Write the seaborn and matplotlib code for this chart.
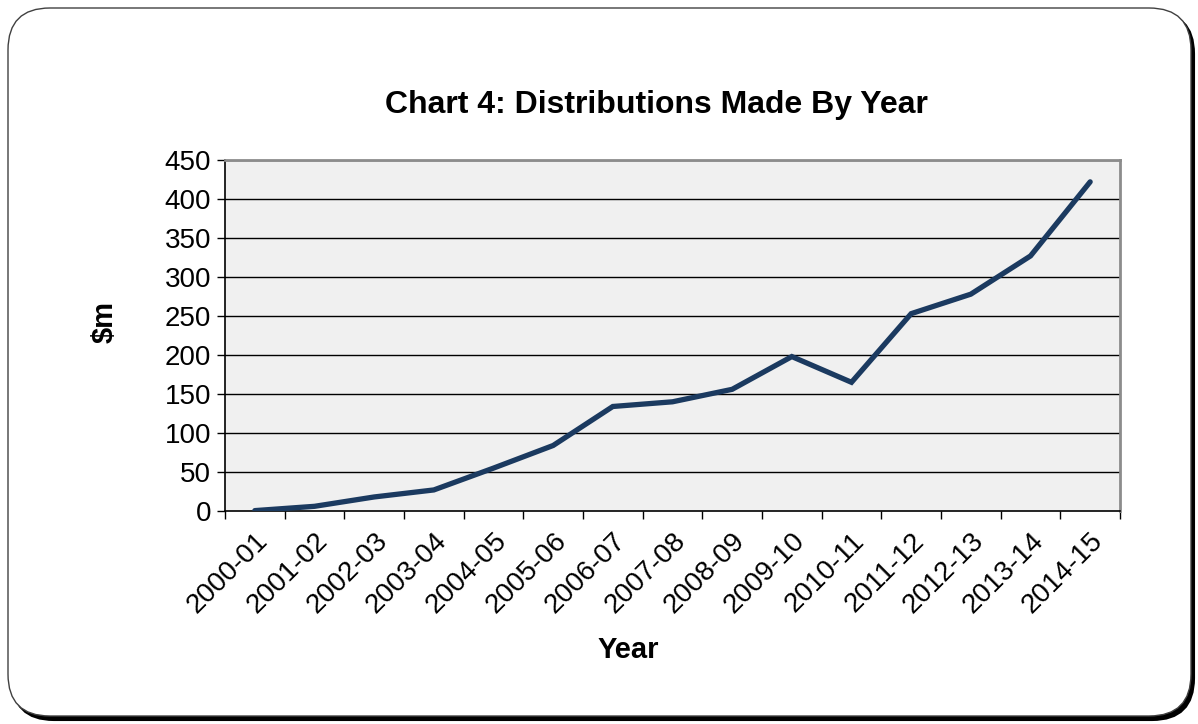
import matplotlib
matplotlib.use("Agg")
import matplotlib.pyplot as plt
from matplotlib.patches import FancyBboxPatch
import seaborn as sns
import pandas as pd
import numpy as np

# Datos
years = ["2000-01", "2001-02", "2002-03", "2003-04", "2004-05", "2005-06",
         "2006-07", "2007-08", "2008-09", "2009-10", "2010-11", "2011-12",
         "2012-13", "2013-14", "2014-15"]
distributions = [0.5, 6, 18, 27, 55, 84, 134, 140, 156, 198, 165, 253, 278, 327, 422]
y_ticks = [0, 50, 100, 150, 200, 250, 300, 350, 400, 450]

df = pd.DataFrame({"year": years, "value": distributions})
df["pos"] = np.arange(len(years))

sns.set_style("white")
plt.rcParams["font.family"] = ["Liberation Sans", "DejaVu Sans"]
plt.rcParams["text.color"] = "black"
plt.rcParams["xtick.color"] = "black"
plt.rcParams["ytick.color"] = "black"

fig = plt.figure(figsize=(11.98, 7.24), dpi=100)
W, H = 1198, 724

# Marco redondeado con sombra
shadow = FancyBboxPatch((12 / W, 4 / H), 1182 / W, 708 / H,
                        boxstyle="round,pad=0,rounding_size=0.035",
                        transform=fig.transFigure, facecolor="black",
                        edgecolor="black", linewidth=1.5, mutation_aspect=W / H, zorder=0)
frame = FancyBboxPatch((8 / W, 8 / H), 1183 / W, 708 / H,
                       boxstyle="round,pad=0,rounding_size=0.035",
                       transform=fig.transFigure, facecolor="white",
                       edgecolor="#404040", linewidth=1.0, mutation_aspect=W / H, zorder=1)
fig.patches.extend([shadow, frame])

ax = fig.add_axes([225 / W, 1 - 511 / H, (1120 - 225) / W, (511 - 160) / H])
ax.set_zorder(2)
ax.set_facecolor("#f0f0f0")

sns.lineplot(data=df, x="pos", y="value", ax=ax, color="#1b3a60",
             linewidth=3.8, solid_capstyle="round", solid_joinstyle="miter", zorder=3)

ax.set_xlim(-0.5, len(years) - 0.5)
ax.set_ylim(0, 450)
ax.set_yticks(y_ticks)
for v in y_ticks[1:]:
    ax.axhline(v, color="black", linewidth=1.0, zorder=2)

ax.set_xticks(df["pos"])
ax.set_xticklabels(years, rotation=45, ha="right", rotation_mode="anchor", fontsize=20)
ax.set_xticks(np.arange(-0.5, len(years)), minor=True)
ax.tick_params(axis="x", which="major", length=0, pad=12)
ax.tick_params(axis="x", which="minor", length=6, width=1, color="black", direction="out", bottom=True)
ax.tick_params(axis="y", length=6, width=1, color="black", direction="out", left=True, labelsize=20, pad=4)

for side in ["left", "bottom"]:
    ax.spines[side].set_color("black")
    ax.spines[side].set_linewidth(1.2)
for side in ["top", "right"]:
    ax.spines[side].set_color("#8c8c8c")
    ax.spines[side].set_linewidth(2)

ax.set_xlabel("")
ax.set_ylabel("")
fig.text(105 / W, 1 - 322 / H, "$m", rotation=90, fontsize=21, fontweight="bold",
         ha="center", va="center")
fig.text(628 / W, 1 - 650 / H, "Year", fontsize=21, fontweight="bold",
         ha="center", va="center")
fig.text(656 / W, 1 - 105 / H, "Chart 4: Distributions Made By Year", fontsize=23,
         fontweight="bold", ha="center", va="center")

fig.savefig("out.png", dpi=100)
